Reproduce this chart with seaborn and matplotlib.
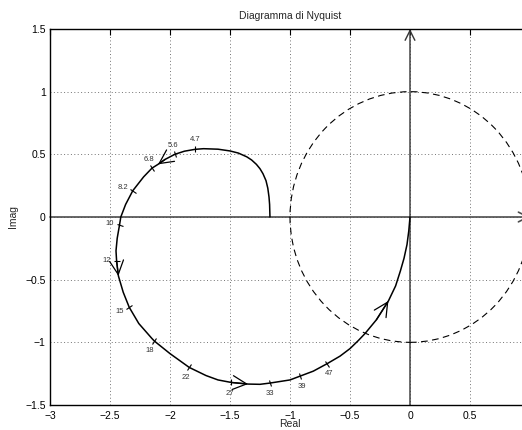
import numpy as np
import pandas as pd
import matplotlib
matplotlib.use("Agg")
import matplotlib.pyplot as plt
from matplotlib.patches import Circle, FancyArrowPatch, ArrowStyle
from matplotlib.markers import MarkerStyle
from matplotlib.transforms import Affine2D
import seaborn as sns

# Nyquist locus of the loop transfer function (real, imaginary parts)
nyq_re = [-1.167, -1.170, -1.175, -1.185, -1.200, -1.225, -1.250, -1.280, -1.320,
          -1.360, -1.430, -1.500, -1.600, -1.720, -1.790, -1.880, -1.960, -2.040,
          -2.100, -2.150, -2.220, -2.310, -2.370, -2.410, -2.420, -2.440, -2.450,
          -2.445, -2.430, -2.390, -2.340, -2.260, -2.150, -2.130, -2.000, -1.840,
          -1.700, -1.600, -1.490, -1.350, -1.250, -1.167, -1.000, -0.917, -0.806,
          -0.690, -0.583, -0.500, -0.430, -0.375, -0.280, -0.180, -0.120, -0.080,
          -0.050, -0.025, -0.010, 0.0]
nyq_im = [0.000, 0.100, 0.160, 0.230, 0.290, 0.345, 0.385, 0.420, 0.455,
          0.480, 0.510, 0.527, 0.541, 0.545, 0.540, 0.525, 0.500, 0.460,
          0.420, 0.390, 0.320, 0.210, 0.100, 0.000, -0.060, -0.170, -0.270,
          -0.350, -0.470, -0.600, -0.720, -0.850, -0.970, -0.990, -1.090, -1.200,
          -1.265, -1.300, -1.320, -1.333, -1.335, -1.325, -1.300, -1.270, -1.230,
          -1.170, -1.110, -1.050, -0.985, -0.930, -0.820, -0.670, -0.550, -0.430,
          -0.330, -0.220, -0.110, 0.0]

# Frequency markers along the locus (rad/s)
freq_labels = ["4.7", "5.6", "6.8", "8.2", "10", "12", "15", "18", "22", "27", "33", "39", "47"]
freq_re = [-1.790, -1.960, -2.150, -2.310, -2.420, -2.445, -2.340, -2.130, -1.840, -1.490, -1.167, -0.917, -0.690]
freq_im = [0.540, 0.500, 0.390, 0.210, -0.060, -0.350, -0.720, -0.990, -1.200, -1.320, -1.325, -1.270, -1.170]
# label offsets in pixels (dx, dy)
label_dx = [0, -2, -3, -10, -10, -10, -9, -5, -3, -1, 0, 2, 2]
label_dy = [10, 9, 9, 3, 1, 0, -4, -9, -10, -11, -10, -10, -10]

# Direction arrows: tip points on the locus
arrow_re = [-2.100, -2.430, -1.350, -0.180]
arrow_im = [0.420, -0.470, -1.333, -0.670]

xticks = [-3, -2.5, -2, -1.5, -1, -0.5, 0, 0.5, 1]
xtick_labels = ["\u22123", "\u22122.5", "\u22122", "\u22121.5", "\u22121",
                "\u22120.5", "0", "0.5", ""]
yticks = [-1.5, -1, -0.5, 0, 0.5, 1, 1.5]
ytick_labels = ["\u22121.5", "\u22121", "\u22120.5", "0", "0.5", "1", "1.5"]

sns.set_style("white")
plt.rcParams["font.family"] = ["Liberation Sans", "DejaVu Sans"]

fig = plt.figure(figsize=(5.22, 4.30), dpi=100)
ax = fig.add_axes([50 / 522, 25 / 430, 480 / 522, 376 / 430])
ax.set_xlim(-3, 1)
ax.set_ylim(-1.5, 1.5)

df = pd.DataFrame({"Real": nyq_re, "Imag": nyq_im})
sns.lineplot(data=df, x="Real", y="Imag", sort=False, estimator=None,
             color="black", lw=1.1, ax=ax, zorder=4)

# unit circle
ax.add_patch(Circle((0, 0), 1, fill=False, ls=(0, (6, 4)), lw=0.8,
                    color="black", zorder=3))

# real and imaginary axes with arrowheads
ax_style = ArrowStyle("->", head_length=7, head_width=3.5)
ax.add_patch(FancyArrowPatch((-3, 0), (1, 0), arrowstyle=ax_style,
                             mutation_scale=1, color="0.3", lw=1.2,
                             shrinkA=0, shrinkB=0, zorder=2, clip_on=False))
ax.add_patch(FancyArrowPatch((0, -1.5), (0, 1.5), arrowstyle=ax_style,
                             mutation_scale=1, color="0.2", lw=1.0,
                             shrinkA=0, shrinkB=0, zorder=2, clip_on=False))

# direction arrows along the locus
re_arr = np.array(nyq_re)
im_arr = np.array(nyq_im)
arr_style = ArrowStyle("->", head_length=10, head_width=5)
for tx, ty in zip(arrow_re, arrow_im):
    i = int(np.argmin((re_arr - tx) ** 2 + (im_arr - ty) ** 2))
    ax.add_patch(FancyArrowPatch((re_arr[i - 1], im_arr[i - 1]), (tx, ty),
                                 arrowstyle=arr_style, mutation_scale=1,
                                 color="black", lw=0.9, shrinkA=0, shrinkB=0,
                                 zorder=5))

# frequency ticks perpendicular to the locus, with labels
fig.canvas.draw()
disp = ax.transData.transform(np.column_stack([re_arr, im_arr]))
for lab, fx, fy, dx, dy in zip(freq_labels, freq_re, freq_im, label_dx, label_dy):
    i = int(np.argmin((re_arr - fx) ** 2 + (im_arr - fy) ** 2))
    a = disp[max(i - 1, 0)]
    b = disp[min(i + 1, len(disp) - 1)]
    ang = np.degrees(np.arctan2(b[1] - a[1], b[0] - a[0]))
    mk = MarkerStyle("|", transform=Affine2D().rotate_deg(ang))
    ax.plot([fx], [fy], marker=mk, ms=5, mew=0.8, color="black", zorder=5)
    ax.annotate(lab, (fx, fy), xytext=(dx, dy), textcoords="offset pixels",
                ha="center", va="center", fontsize=5.5, color="0.2")

ax.set_xticks(xticks)
ax.set_yticks(yticks)
ax.set_xticklabels(xtick_labels)
ax.set_yticklabels(ytick_labels)
ax.tick_params(direction="in", length=4, width=0.8, labelsize=7.5,
               top=True, right=True, colors="black")
ax.tick_params(axis="x", pad=4)
ax.tick_params(axis="y", pad=3)
ax.grid(True, ls=(0, (1, 2.5)), lw=0.7, color="0.45")
for s in ax.spines.values():
    s.set_linewidth(1.0)
    s.set_color("black")

ax.set_title("Diagramma di Nyquist", fontsize=7.5, pad=7)
ax.set_xlabel("Real", fontsize=7.5, labelpad=-1)
ax.set_ylabel("Imag", fontsize=7.5, labelpad=5)

fig.savefig("out.png", dpi=100)
